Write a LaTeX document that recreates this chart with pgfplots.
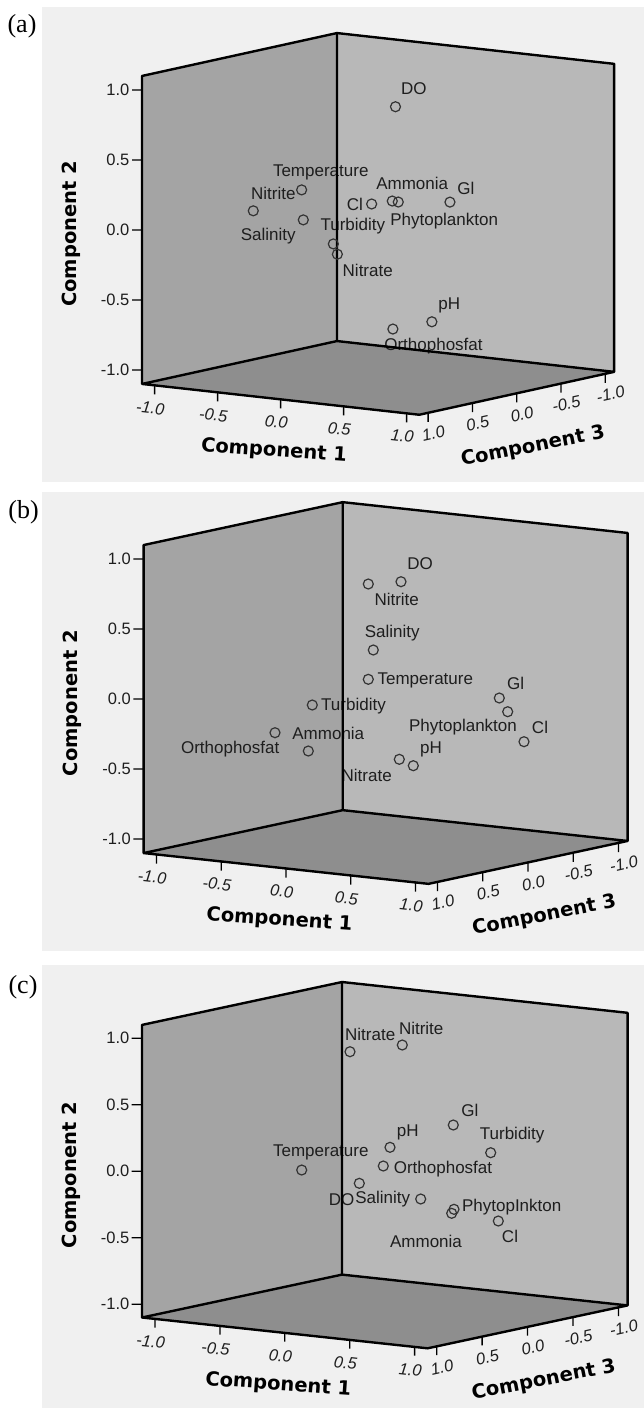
\documentclass[border=0pt]{standalone}
\usepackage{fontspec}
\setmainfont{Liberation Sans}
\newfontfamily\serifa{Liberation Serif}
\newfontfamily\titlef{DejaVu Sans}
\usepackage{pgfplots}
\pgfplotsset{compat=1.18}
\definecolor{panelbg}{HTML}{F0F0F0}
\definecolor{lwall}{HTML}{A4A4A4}
\definecolor{rwall}{HTML}{B8B8B8}
\definecolor{floorc}{HTML}{8E8E8E}
\definecolor{txt}{HTML}{1E1E1E}
\definecolor{mk}{HTML}{333333}

\pgfplotsset{
  comp3d/.style={
    hide axis, clip=false,
    xmin=-1.1,xmax=1.1,ymin=-1.1,ymax=1.1,zmin=-1.1,zmax=1.1,
    anchor=origin,
  },
}
\tikzset{
  lbl/.style={font=\fontsize{17}{17}\selectfont, text=txt, inner sep=0pt, anchor=center},
  tkl/.style={font=\itshape\fontsize{16.5}{16.5}\selectfont, text=txt, inner sep=0pt, anchor=center},
  tkz/.style={font=\fontsize{16.5}{16.5}\selectfont, text=txt, inner sep=0pt, anchor=east},
  ttl/.style={font=\titlef\bfseries\fontsize{19.5}{19.5}\selectfont, text=black, inner sep=0pt, anchor=center},
}

\newcommand{\walls}{%
  \addplot3[fill=lwall, draw=none] coordinates {(-1.1,-1.1,-1.1) (-1.1,1.1,-1.1) (-1.1,1.1,1.1) (-1.1,-1.1,1.1)};
  \addplot3[fill=rwall, draw=none] coordinates {(-1.1,1.1,-1.1) (1.1,1.1,-1.1) (1.1,1.1,1.1) (-1.1,1.1,1.1)};
  \addplot3[fill=floorc, draw=none] coordinates {(-1.1,-1.1,-1.1) (1.1,-1.1,-1.1) (1.1,1.1,-1.1) (-1.1,1.1,-1.1)};
}
\newcommand{\edges}{%
  \addplot3[black, line width=2.4pt, line join=round, unbounded coords=jump] coordinates {
   (-1.1,-1.1,-1.1) (-1.1,-1.1,1.1) (-1.1,1.1,1.1) (1.1,1.1,1.1) (1.1,1.1,-1.1) (1.1,-1.1,-1.1) (-1.1,-1.1,-1.1) (-1.1,1.1,-1.1) (1.1,1.1,-1.1)
   (nan,nan,nan)
   (-1.1,1.1,-1.1) (-1.1,1.1,1.1)};
  % ticks
  \addplot3[black, line width=1.3pt, unbounded coords=jump] coordinates {
   (-1,-1.1,-1.1) (-1,-1.1,-1.165) (nan,nan,nan)
   (-0.5,-1.1,-1.1) (-0.5,-1.1,-1.165) (nan,nan,nan)
   (0,-1.1,-1.1) (0,-1.1,-1.165) (nan,nan,nan)
   (0.5,-1.1,-1.1) (0.5,-1.1,-1.165) (nan,nan,nan)
   (1,-1.1,-1.1) (1,-1.1,-1.165) (nan,nan,nan)
   (1.1,-1,-1.1) (1.1,-1,-1.165) (nan,nan,nan)
   (1.1,-0.5,-1.1) (1.1,-0.5,-1.165) (nan,nan,nan)
   (1.1,0,-1.1) (1.1,0,-1.165) (nan,nan,nan)
   (1.1,0.5,-1.1) (1.1,0.5,-1.165) (nan,nan,nan)
   (1.1,1,-1.1) (1.1,1,-1.165) (nan,nan,nan)
   (-1.1,-1.1,-1) (-1.1527,-1.1379,-1) (nan,nan,nan)
   (-1.1,-1.1,-0.5) (-1.1527,-1.1379,-0.5) (nan,nan,nan)
   (-1.1,-1.1,0) (-1.1527,-1.1379,0) (nan,nan,nan)
   (-1.1,-1.1,0.5) (-1.1527,-1.1379,0.5) (nan,nan,nan)
   (-1.1,-1.1,1) (-1.1527,-1.1379,1)};
  % tick labels
  \node[tkl, xshift=-4.3pt, yshift=-22.7pt, rotate=-6.3] at (axis cs:-1,-1.1,-1.1) {-1.0};
  \node[tkl, xshift=-4.3pt, yshift=-22.7pt, rotate=-6.3] at (axis cs:-0.5,-1.1,-1.1) {-0.5};
  \node[tkl, xshift=-4.3pt, yshift=-22.7pt, rotate=-6.3] at (axis cs:0,-1.1,-1.1) {0.0};
  \node[tkl, xshift=-4.3pt, yshift=-22.7pt, rotate=-6.3] at (axis cs:0.5,-1.1,-1.1) {0.5};
  \node[tkl, xshift=-4.3pt, yshift=-22.7pt, rotate=-6.3] at (axis cs:1,-1.1,-1.1) {1.0};
  \node[tkl, xshift=5.3pt, yshift=-20.7pt, rotate=12.4] at (axis cs:1.1,-1,-1.1) {1.0};
  \node[tkl, xshift=5.3pt, yshift=-20.7pt, rotate=12.4] at (axis cs:1.1,-0.5,-1.1) {0.5};
  \node[tkl, xshift=5.3pt, yshift=-20.7pt, rotate=12.4] at (axis cs:1.1,0,-1.1) {0.0};
  \node[tkl, xshift=5.3pt, yshift=-20.7pt, rotate=12.4] at (axis cs:1.1,0.5,-1.1) {-0.5};
  \node[tkl, xshift=5.3pt, yshift=-20.7pt, rotate=12.4] at (axis cs:1.1,1,-1.1) {-1.0};
  \node[tkz, xshift=-12.5pt] at (axis cs:-1.1,-1.1,-1) {-1.0};
  \node[tkz, xshift=-12.5pt] at (axis cs:-1.1,-1.1,-0.5) {-0.5};
  \node[tkz, xshift=-12.5pt] at (axis cs:-1.1,-1.1,0) {0.0};
  \node[tkz, xshift=-12.5pt] at (axis cs:-1.1,-1.1,0.5) {0.5};
  \node[tkz, xshift=-12.5pt] at (axis cs:-1.1,-1.1,1) {1.0};
  % axis titles
  \node[ttl, xshift=-6.6pt, yshift=-52pt, rotate=-4] at (axis cs:0,-1.1,-1.1) {Component 1};
  \node[ttl, xshift=16.3pt, yshift=-53.5pt, rotate=11] at (axis cs:1.1,0,-1.1) {Component 3};
  \node[ttl, xshift=-71pt, yshift=-4pt, rotate=90] at (axis cs:-1.1,-1.1,0) {Component 2};
}
\pgfplotsset{pts/.style={only marks, mark=o, mark size=5pt, mark options={line width=1.2pt, draw=mk}}}

\begin{document}
\begin{tikzpicture}
\path[use as bounding box] (0pt,0pt) rectangle (644pt,-1408pt);
\fill[panelbg] (42pt,-7pt) rectangle (644pt,-482pt);
\fill[panelbg] (42pt,-492pt) rectangle (644pt,-951pt);
\fill[panelbg] (42pt,-965pt) rectangle (644pt,-1408pt);
\node[font=\serifa\fontsize{26}{26}\selectfont, inner sep=0pt] at (22pt,-26.5pt) {(a)};
\node[font=\serifa\fontsize{26}{26}\selectfont, inner sep=0pt] at (23.5pt,-512.5pt) {(b)};
\node[font=\serifa\fontsize{26}{26}\selectfont, inner sep=0pt] at (23pt,-987.5pt) {(c)};

% ---------------- panel (a)
\begin{axis}[comp3d, x={(126pt,-14pt)}, y={(88.6pt,19.5pt)}, z={(0pt,140pt)}, at={(378.1pt,-223.9pt)}]
\walls
\addplot3[pts] coordinates {
 (0.0121,0.1790,0.8132)    % DO
 (-0.4293,-0.2525,0.2352)  % Temperature
 (-0.6717,-0.4536,0.0895)  % Nitrite
 (-0.3999,-0.2756,0.0271)  % Salinity
 (-0.2240,-0.1867,-0.1395) % Turbidity
 (-0.1956,-0.1817,-0.2109) % Nitrate
 (-0.0478,-0.0047,0.1381)  % Cl
 (0.0595,0.0752,0.1589)    % Ammonia
 (0.0921,0.0966,0.1520)    % Phytoplankton
 (0.3666,0.2897,0.1520)    % GI
 (0.3525,0.1056,-0.6786)   % pH
 (0.1505,-0.0471,-0.7293)  % Orthophosfat
};
\node[lbl, xshift=18.3pt, yshift=18.4pt] at (axis cs:0.0121,0.1790,0.8132) {DO};
\node[lbl, xshift=19.1pt, yshift=17.3pt] at (axis cs:-0.4293,-0.2525,0.2352) {Temperature};
\node[lbl, xshift=20pt, yshift=17.7pt] at (axis cs:-0.6717,-0.4536,0.0895) {Nitrite};
\node[lbl, xshift=-35pt, yshift=-16.7pt] at (axis cs:-0.3999,-0.2756,0.0271) {Salinity};
\node[lbl, xshift=19.5pt, yshift=18pt] at (axis cs:-0.2240,-0.1867,-0.1395) {Turbidity};
\node[lbl, xshift=30.4pt, yshift=-15.7pt] at (axis cs:-0.1956,-0.1817,-0.2109) {Nitrate};
\node[lbl, xshift=-16.7pt, yshift=0pt] at (axis cs:-0.0478,-0.0047,0.1381) {Cl};
\node[lbl, xshift=19.9pt, yshift=17.7pt] at (axis cs:0.0595,0.0752,0.1589) {Ammonia};
\node[lbl, xshift=45.9pt, yshift=-19pt] at (axis cs:0.0921,0.0966,0.1520) {Phytoplankton};
\node[lbl, xshift=16pt, yshift=13.7pt] at (axis cs:0.3666,0.2897,0.1520) {Gl};
\node[lbl, xshift=17.3pt, yshift=16pt] at (axis cs:0.3525,0.1056,-0.6786) {pH};
\node[lbl, xshift=40.6pt, yshift=-16.7pt] at (axis cs:0.1505,-0.0471,-0.7293) {Orthophosfat};
\edges
\end{axis}

% ---------------- panel (b)
\begin{axis}[comp3d, x={(129.5pt,-14pt)}, y={(90.5pt,19.5pt)}, z={(0pt,140pt)}, at={(385.6pt,-693pt)}]
\walls
\addplot3[pts] coordinates {
 (-0.0011,0.1717,0.7710)   % DO
 (-0.1667,0.0474,0.7553)   % Nitrite
 (-0.0966,0.0023,0.2972)   % Salinity
 (-0.1024,-0.0447,0.0938)  % Temperature
 (-0.3713,-0.2787,-0.0840) % Turbidity
 (0.5800,0.4264,-0.0371)   % GI
 (0.6322,0.4445,-0.1323)   % Phytoplankton
 (0.7358,0.4764,-0.3406)   % Cl
 (-0.5432,-0.4448,-0.2759) % Ammonia
 (-0.3606,-0.3381,-0.4033) % Orthophosfat
 (0.1861,0.0398,-0.5062)   % pH
 (0.1102,-0.0063,-0.4617)  % Nitrate
};
\node[lbl, xshift=19pt, yshift=17.7pt] at (axis cs:-0.0011,0.1717,0.7710) {DO};
\node[lbl, xshift=28.4pt, yshift=-15.3pt] at (axis cs:-0.1667,0.0474,0.7553) {Nitrite};
\node[lbl, xshift=19pt, yshift=17.3pt] at (axis cs:-0.0966,0.0023,0.2972) {Salinity};
\node[lbl, xshift=57pt, yshift=-0.7pt] at (axis cs:-0.1024,-0.0447,0.0938) {Temperature};
\node[lbl, xshift=41.2pt, yshift=-1pt] at (axis cs:-0.3713,-0.2787,-0.0840) {Turbidity};
\node[lbl, xshift=16.4pt, yshift=14.7pt] at (axis cs:0.5800,0.4264,-0.0371) {Gl};
\node[lbl, xshift=-44.7pt, yshift=-15.6pt] at (axis cs:0.6322,0.4445,-0.1323) {Phytoplankton};
\node[lbl, xshift=16pt, yshift=14.4pt] at (axis cs:0.7358,0.4764,-0.3406) {Cl};
\node[lbl, xshift=53.3pt, yshift=-0.6pt] at (axis cs:-0.5432,-0.4448,-0.2759) {Ammonia};
\node[lbl, xshift=-78.1pt, yshift=1.7pt] at (axis cs:-0.3606,-0.3381,-0.4033) {Orthophosfat};
\node[lbl, xshift=17.7pt, yshift=16.7pt] at (axis cs:0.1861,0.0398,-0.5062) {pH};
\node[lbl, xshift=-32.6pt, yshift=-15.7pt] at (axis cs:0.1102,-0.0063,-0.4617) {Nitrate};
\edges
\end{axis}

% ---------------- panel (c)
\begin{axis}[comp3d, x={(129.8pt,-14pt)}, y={(90.9pt,19.5pt)}, z={(0pt,133pt)}, at={(384.8pt,-1165.15pt)}]
\walls
\addplot3[pts] coordinates {
 (-0.2549,-0.0189,0.8289)  % Nitrate
 (0.0067,0.1829,0.8773)    % Nitrite
 (0.3204,0.2960,0.2922)    % GI
 (0.0134,0.0381,0.1300)    % pH
 (0.5295,0.4089,0.0894)    % Turbidity
 (-0.4206,-0.3136,-0.0348) % Temperature
 (-0.0081,-0.0050,-0.0065) % Orthophosfat
 (-0.1185,-0.1113,-0.1326) % DO
 (0.2046,0.1028,-0.2480)   % Salinity
 (0.3810,0.2172,-0.3237)   % Phytoplankton
 (0.3720,0.2047,-0.3529)   % Ammonia
 (0.6144,0.3713,-0.4097)   % Cl
};
\node[lbl, xshift=20.2pt, yshift=17.7pt] at (axis cs:-0.2549,-0.0189,0.8289) {Nitrate};
\node[lbl, xshift=18.9pt, yshift=16.7pt] at (axis cs:0.0067,0.1829,0.8773) {Nitrite};
\node[lbl, xshift=16.7pt, yshift=15pt] at (axis cs:0.3204,0.2960,0.2922) {Gl};
\node[lbl, xshift=17.7pt, yshift=14.6pt] at (axis cs:0.0134,0.0381,0.1300) {pH};
\node[lbl, xshift=21.5pt, yshift=17.4pt] at (axis cs:0.5295,0.4089,0.0894) {Turbidity};
\node[lbl, xshift=19.1pt, yshift=17.3pt] at (axis cs:-0.4206,-0.3136,-0.0348) {Temperature};
\node[lbl, xshift=59.7pt, yshift=-3pt] at (axis cs:-0.0081,-0.0050,-0.0065) {Orthophosfat};
\node[lbl, xshift=-17.6pt, yshift=-16pt] at (axis cs:-0.1185,-0.1113,-0.1326) {DO};
\node[lbl, xshift=-37.9pt, yshift=-0.3pt] at (axis cs:0.2046,0.1028,-0.2480) {Salinity};
\node[lbl, xshift=57.7pt, yshift=2.6pt] at (axis cs:0.3810,0.2172,-0.3237) {PhytopInkton};
\node[lbl, xshift=-25.7pt, yshift=-28.4pt] at (axis cs:0.3720,0.2047,-0.3529) {Ammonia};
\node[lbl, xshift=11.7pt, yshift=-15pt] at (axis cs:0.6144,0.3713,-0.4097) {Cl};
\edges
\end{axis}
\end{tikzpicture}
\end{document}
